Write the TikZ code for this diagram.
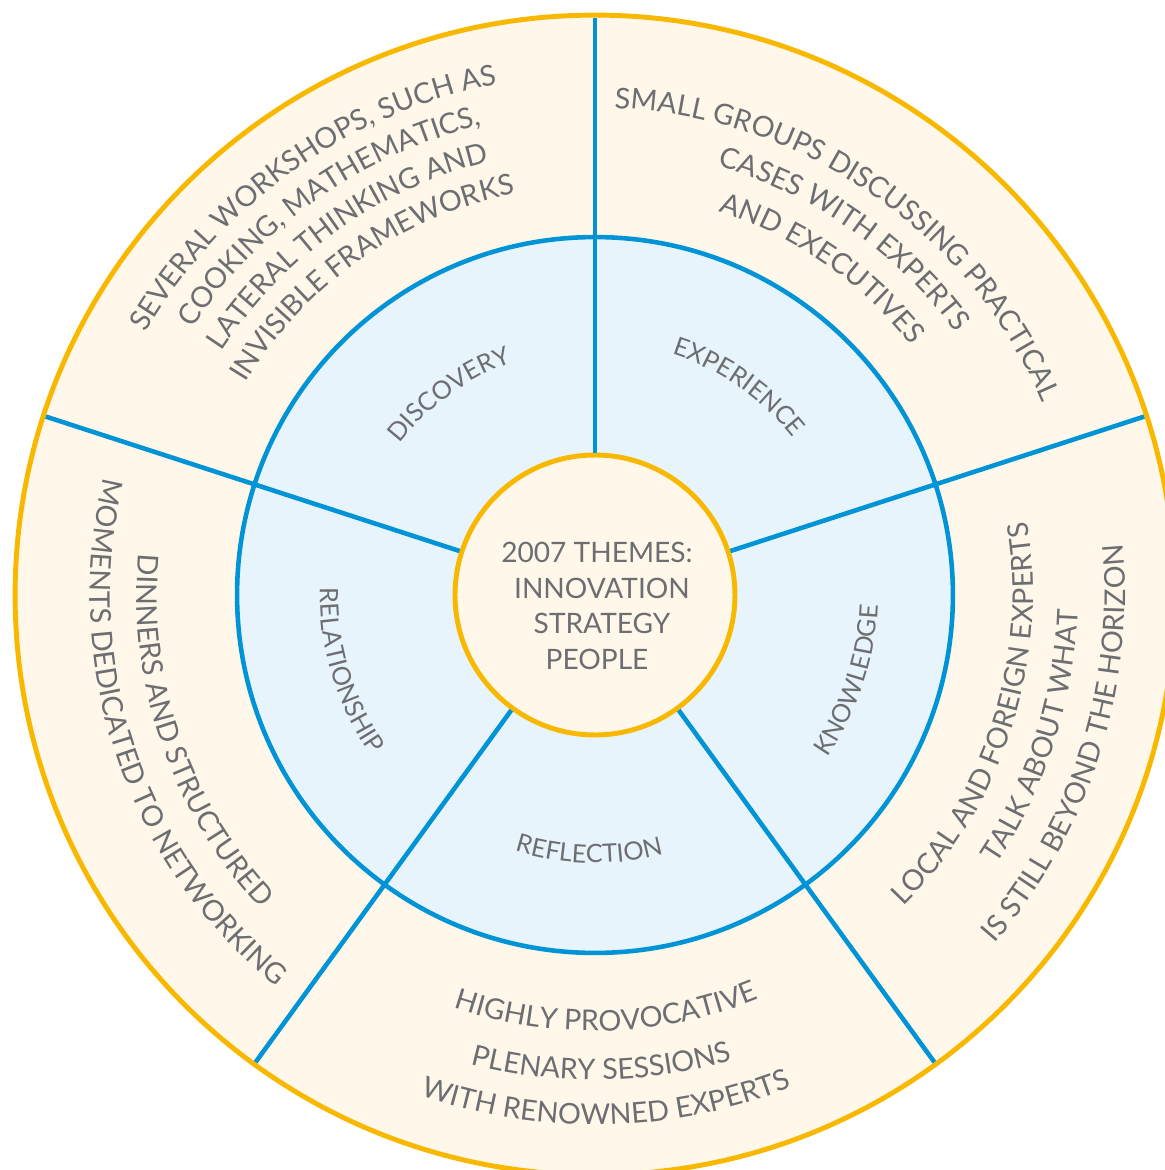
\documentclass[tikz,border=0pt]{standalone}
\usepackage{fontspec}
\setmainfont{Lato}
\usetikzlibrary{decorations.text}
\definecolor{cream}{HTML}{FFF7EA}
\definecolor{paleblue}{HTML}{E8F4FB}
\definecolor{ringyellow}{HTML}{F9B800}
\definecolor{ringblue}{HTML}{0094D6}
\definecolor{txtgray}{HTML}{6D6E71}
\newcommand{\outsize}{\fontsize{16.3}{19}\selectfont}
\newcommand{\insize}{\fontsize{14.4}{17}\selectfont}
% clockwise arc (text tops outward), args: radius, centre angle, half span, text
\newcommand{\cwline}[4]{\path[decorate,decoration={text along path,text align=center,text color=txtgray,text={#4}}] (#2+#3:#1) arc[start angle=#2+#3,end angle=#2-#3,radius=#1];}
% counter-clockwise arc (text tops inward)
\newcommand{\ccwline}[4]{\path[decorate,decoration={text along path,text align=center,text color=txtgray,text={#4}}] (#2-#3:#1) arc[start angle=#2-#3,end angle=#2+#3,radius=#1];}
\begin{document}
\begin{tikzpicture}[x=0.02cm,y=0.02cm,
  ring/.style={circle,outer sep=0pt,inner sep=0pt},
  spoke/.style={draw=ringblue,line width=2.6pt,shorten <=1.4pt,shorten >=1.4pt}]
\useasboundingbox (-595,-575) rectangle (570,595);
\fill[white] (-595,-575) rectangle (570,595);
\clip (-595,-575) rectangle (570,595);
\node[ring,fill=cream,draw=ringyellow,line width=2.8pt,minimum size=23.2cm] (outerring) at (0,0) {};
\node[ring,fill=paleblue,draw=ringblue,line width=2.6pt,minimum size=14.32cm] (bluering) at (0,0) {};
\node[ring,fill=cream,draw=ringyellow,line width=2.8pt,minimum size=5.6cm] (hub) at (0,0) {};
\foreach \a in {90,162,234,306,18}{\draw[spoke] (hub.\a) -- (outerring.\a);}
\node[align=center,text=txtgray,font=\fontsize{16}{20.3}\selectfont] (themes) at (2,-11)
  {2007 THEMES:\\\hspace*{5.7pt}INNOVATION\\\hspace*{5.7pt}STRATEGY\\PEOPLE};
% inner labels
\cwline{247}{126}{40}{|\insize|DISCOVERY}
\cwline{253}{55.4}{40}{|\insize|EXPERIENCE}
\ccwline{283}{-18.5}{40}{|\insize|KNOWLEDGE}
\ccwline{268}{268.7}{40}{|\insize|REFLECTION}
\ccwline{275}{197}{40}{|\insize|RELATIONSHIP}
% top-left block
\cwline{520}{125.3}{45}{|\outsize|SEVERAL WORKSHOPS, SUCH AS}
\cwline{483}{125}{45}{|\outsize|COOKING, MATHEMATICS,}
\cwline{446}{125.3}{45}{|\outsize|LATERAL THINKING AND}
\cwline{409}{125}{45}{|\outsize|INVISIBLE FRAMEWORKS}
% top-right block
\cwline{487}{55.5}{45}{|\outsize|SMALL GROUPS DISCUSSING PRACTICAL}
\cwline{446}{55}{45}{|\outsize|CASES WITH EXPERTS}
\cwline{403}{55.2}{45}{|\outsize|AND EXECUTIVES}
% right block
\ccwline{438}{-17.8}{45}{|\outsize|LOCAL AND FOREIGN EXPERTS}
\ccwline{483}{-17.8}{45}{|\outsize|TALK ABOUT WHAT}
\ccwline{530}{-17.8}{45}{|\outsize|IS STILL BEYOND THE HORIZON}
% bottom block
\ccwline{436}{271.6}{45}{|\outsize|HIGHLY PROVOCATIVE}
\ccwline{485}{270.8}{45}{|\outsize|PLENARY SESSIONS}
\ccwline{530}{271.3}{45}{|\outsize|WITH RENOWNED EXPERTS}
% left block
\ccwline{458}{199}{45}{|\outsize|DINNERS AND STRUCTURED}
\ccwline{505}{198.7}{45}{|\outsize|MOMENTS DEDICATED TO NETWORKING}
\end{tikzpicture}
\end{document}
